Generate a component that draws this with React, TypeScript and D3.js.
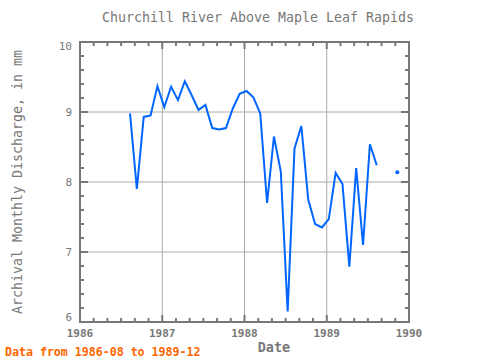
import React from "react";
import * as d3 from "d3";

const months: string[] = [
  "1986-08","1986-09","1986-10","1986-11","1986-12",
  "1987-01","1987-02","1987-03","1987-04","1987-05","1987-06","1987-07","1987-08","1987-09","1987-10","1987-11","1987-12",
  "1988-01","1988-02","1988-03","1988-04","1988-05","1988-06","1988-07","1988-08","1988-09","1988-10","1988-11","1988-12",
  "1989-01","1989-02","1989-03","1989-04","1989-05","1989-06","1989-07","1989-08","1989-09","1989-10","1989-11","1989-12",
];
const discharge: (number | null)[] = [
  8.98, 7.9, 8.93, 8.95, 9.37,
  9.07, 9.36, 9.17, 9.44, 9.24, 9.03, 9.1, 8.77, 8.75, 8.77, 9.05, 9.26,
  9.3, 9.21, 8.98, 7.7, 8.65, 8.15, 6.15, 8.48, 8.8, 7.75, 7.4, 7.35,
  7.47, 8.13, 7.97, 6.79, 8.2, 7.1, 8.54, 8.24, null, null, 8.14, null,
];
const yTicks: number[] = [6, 7, 8, 9, 10];
const xTickYears: number[] = [1986, 1987, 1988, 1989, 1990];

const W = 480, H = 360;
const L = 80, R = 409, T = 42, B = 322;
const GRAY = "#777777";
const FONT = "'DejaVu Sans Mono', monospace";

function toYear(m: string): number {
  const [y, mo] = m.split("-").map(Number);
  return y + (mo - 1) / 12 + 9 / 365;
}

export default function App() {
  const x = d3.scaleLinear().domain([1986, 1990]).range([L, R]);
  const y = d3.scaleLinear().domain([6, 10]).range([B, T]);
  const pts = months.map((m, i) => ({ t: toYear(m), v: discharge[i] }));
  const line = d3
    .line<{ t: number; v: number | null }>()
    .defined((d) => d.v !== null)
    .x((d) => x(d.t))
    .y((d) => y(d.v as number));
  const isolated = pts.filter(
    (d, i) =>
      d.v !== null &&
      (i === 0 || pts[i - 1].v === null) &&
      (i === pts.length - 1 || pts[i + 1].v === null)
  );

  const xMinor: number[] = [];
  for (let k = 0; k <= 24; k++) xMinor.push(1986 + k / 6);
  const yMinor: number[] = [];
  for (let k = 0; k <= 20; k++) yMinor.push(6 + k * 0.2);

  const yLabelPos = (v: number) => {
    if (v === 10) return y(v) + 8;
    if (v === 6) return y(v) - 1;
    return y(v) + 4;
  };

  return (
    <svg width={W} height={H} style={{ position: "absolute", left: 0, top: 0 }}>
      <rect width={W} height={H} fill="#fff" />
      {xTickYears.slice(1, -1).map((t) => (
        <line key={"gx" + t} x1={x(t)} x2={x(t)} y1={T} y2={B} stroke="#aaa" strokeWidth={1} />
      ))}
      {yTicks.slice(1, -1).map((v) => (
        <line key={"gy" + v} x1={L} x2={R} y1={y(v)} y2={y(v)} stroke="#aaa" strokeWidth={1} />
      ))}
      {xMinor.map((t, i) => {
        const major = Math.abs(t - Math.round(t)) < 1e-6;
        const len = major ? 7 : 4;
        return (
          <g key={"xm" + i}>
            <line x1={x(t)} x2={x(t)} y1={B} y2={B - len} stroke={GRAY} strokeWidth={2} />
            <line x1={x(t)} x2={x(t)} y1={T} y2={T + len} stroke={GRAY} strokeWidth={2} />
          </g>
        );
      })}
      {yMinor.map((v, i) => {
        const major = Math.abs(v - Math.round(v)) < 1e-6;
        const len = major ? 8 : 4;
        return (
          <g key={"ym" + i}>
            <line x1={L} x2={L + len} y1={y(v)} y2={y(v)} stroke={GRAY} strokeWidth={2} />
            <line x1={R} x2={R - len} y1={y(v)} y2={y(v)} stroke={GRAY} strokeWidth={2} />
          </g>
        );
      })}
      <rect x={L} y={T} width={R - L} height={B - T} fill="none" stroke={GRAY} strokeWidth={2} />
      <path d={line(pts) || ""} fill="none" stroke="#0066ff" strokeWidth={2} />
      {isolated.map((d, i) => (
        <circle key={"iso" + i} cx={x(d.t)} cy={y(d.v as number)} r={2} fill="#0066ff" />
      ))}
      {yTicks.map((v) => (
        <text key={"yl" + v} x={L - 8} y={yLabelPos(v)} textAnchor="end" fontFamily={FONT} fontSize={11} fill={GRAY}>
          {v}
        </text>
      ))}
      {xTickYears.map((t) => (
        <text key={"xl" + t} x={x(t)} y={B + 15} textAnchor="middle" fontFamily={FONT} fontSize={11} fontWeight="bold" fill={GRAY}>
          {t}
        </text>
      ))}
      <text x={258} y={22} textAnchor="middle" fontFamily={FONT} fontSize={13.3} fill={GRAY}>
        Churchill River Above Maple Leaf Rapids
      </text>
      <text x={274} y={352} textAnchor="middle" fontFamily={FONT} fontSize={13.5} fontWeight="bold" fill={GRAY}>
        Date
      </text>
      <text
        transform={`translate(22, ${(T + B) / 2}) rotate(-90)`}
        textAnchor="middle"
        fontFamily={FONT}
        fontSize={13.3}
        fill={GRAY}
      >
        Archival Monthly Discharge, in mm
      </text>
      <text x={5} y={356} fontFamily={FONT} fontSize={11.6} fontWeight="bold" fill="#ff6600">
        Data from 1986-08 to 1989-12
      </text>
    </svg>
  );
}
